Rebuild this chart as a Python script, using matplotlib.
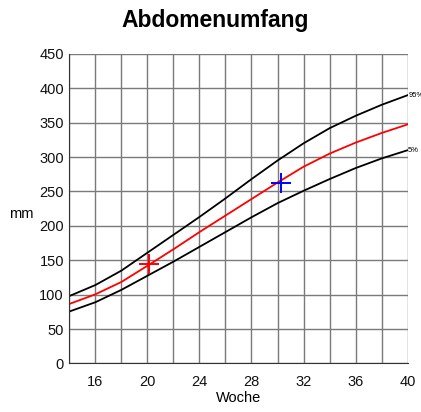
import numpy as np
import matplotlib
matplotlib.use("Agg")
import matplotlib.pyplot as plt

plt.rcParams['font.family'] = ['Liberation Sans', 'DejaVu Sans']

# percentile curves (every 2 weeks)
weeks = [14, 16, 18, 20, 22, 24, 26, 28, 30, 32, 34, 36, 38, 40]
p95 = [98, 114, 135, 161, 187, 213, 240, 268, 295, 320, 342, 360, 376, 390]
p50 = [86.5, 100.5, 118.5, 142, 166, 191, 215, 239, 263, 286, 305, 321, 335, 347.5]
p5 = [75.5, 89, 107, 127.5, 148, 169.5, 191, 212.5, 233, 251, 268, 284, 298, 310]

# measurements
meas_week = [20.15, 30.3]
meas_val = [145, 263]
meas_col = ['red', 'blue']

fig = plt.figure(figsize=(4.21, 4.12), dpi=100)
ax = fig.add_axes([0.165, 0.118, 0.803, 0.751])

ax.plot(weeks, p95, color='black', lw=1.3)
ax.plot(weeks, p5, color='black', lw=1.3)
ax.plot(weeks, p50, color='red', lw=1.3)
for w, v, c in zip(meas_week, meas_val, meas_col):
    ax.plot(w, v, marker='+', ms=14.5, mew=1.4, color=c, clip_on=False)

ax.set_xlim(14, 40)
ax.set_ylim(0, 450)
ax.set_xticks(np.arange(14, 41, 2), minor=True)
ax.set_xticks([16, 20, 24, 28, 32, 36, 40])
ax.set_yticks(np.arange(0, 451, 50))
ax.grid(True, which='both', color='#7a7a7a', lw=1.0)
ax.set_axisbelow(True)
ax.tick_params(which='both', length=0, labelsize=10.5, colors='#111111')
ax.tick_params(axis='x', pad=8.5)
ax.tick_params(axis='y', pad=4)
ax.spines['top'].set_visible(False)
ax.spines['right'].set_visible(False)
ax.spines['left'].set_color('#333333')
ax.spines['bottom'].set_color('#333333')

ax.text(40.05, p95[-1], '95%', fontsize=5.5, va='center', ha='left', clip_on=False)
ax.text(40.05, p5[-1], '5%', fontsize=5.5, va='center', ha='left', clip_on=False)

ax.set_xlabel('Woche', fontsize=10.5, labelpad=1.5)
fig.text(21.5 / 421, 1 - 214 / 412, 'mm', fontsize=10.5, ha='center', va='center')
fig.text(215 / 421, 1 - 20 / 412, 'Abdomenumfang', fontsize=16.5, fontweight='bold',
         ha='center', va='center')

fig.savefig('out.png', dpi=100)
